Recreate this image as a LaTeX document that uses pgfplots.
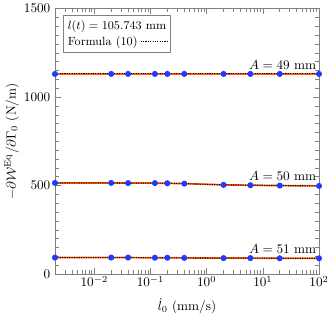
\documentclass[border=0pt]{standalone}
\usepackage{pgfplots}
\pgfplotsset{compat=1.18}
\definecolor{myorange}{RGB}{255,85,10}
\definecolor{myblue}{RGB}{30,60,255}
\begin{document}
\begin{tikzpicture}
\begin{axis}[
  scale only axis,
  width=200pt, height=201pt,
  xmode=log,
  xmin=0.002, xmax=100,
  ymin=0, ymax=1500,
  ytick={0,500,1000,1500},
  minor y tick num=9,
  yticklabel style={/pgf/number format/1000 sep={}},
  tick align=inside,
  axis line style={gray},
  every tick/.style={gray},
  xlabel={$\dot{l}_0$ (mm/s)},
  xlabel shift=2pt,
  xticklabel shift=-2pt,
  ylabel={$-\partial\mathcal{W}^{\mathrm{Eq}}/\partial\Gamma_0$ (N/m)},
  ylabel shift=-3pt,
  legend style={draw=gray, inner sep=1.5pt, font=\small, at={(0.03,0.975)}, anchor=north west},
  legend cell align=left,
  legend plot pos=right,
  legend image code/.code={\draw[#1] (0cm,0cm) -- (0.72cm,0cm);},
]
\addlegendimage{empty legend}
\addlegendentry{\rlap{$l(t) = 105.743$ mm}}
\addlegendimage{black, densely dotted, thick}
\addlegendentry{Formula (10)}
% A = 49
\addplot[myorange, line width=1.3pt, mark=*, mark size=1.6pt, mark options={myblue, fill=myblue}, forget plot] coordinates {
(0.002,1131) (0.02,1131) (0.04,1131) (0.12,1131) (0.2,1131) (0.4,1131) (2,1131) (6,1131) (20,1131) (100,1131)};
\addplot[black, densely dotted, thick, forget plot] coordinates {
(0.002,1131) (0.02,1131) (0.04,1131) (0.12,1131) (0.2,1131) (0.4,1131) (2,1131) (6,1131) (20,1131) (100,1131)};
% A = 50
\addplot[myorange, line width=1.3pt, mark=*, mark size=1.6pt, mark options={myblue, fill=myblue}, forget plot] coordinates {
(0.002,515) (0.02,515) (0.04,514) (0.12,514) (0.2,513) (0.4,511) (2,504) (6,502) (20,500) (100,498)};
\addplot[black, densely dotted, thick, forget plot] coordinates {
(0.002,515) (0.02,515) (0.04,514) (0.12,514) (0.2,513) (0.4,511) (2,504) (6,502) (20,500) (100,498)};
% A = 51
\addplot[myorange, line width=1.3pt, mark=*, mark size=1.6pt, mark options={myblue, fill=myblue}, forget plot] coordinates {
(0.002,93) (0.02,93) (0.04,93) (0.12,92) (0.2,92) (0.4,91) (2,90) (6,90) (20,89) (100,89)};
\addplot[black, densely dotted, thick, forget plot] coordinates {
(0.002,93) (0.02,93) (0.04,93) (0.12,92) (0.2,92) (0.4,91) (2,90) (6,90) (20,89) (100,89)};
\node[anchor=south east, inner sep=2pt] at (axis cs:100,1140) {$A = 49$ mm};
\node[anchor=south east, inner sep=2pt] at (axis cs:100,515) {$A = 50$ mm};
\node[anchor=south east, inner sep=2pt] at (axis cs:100,100) {$A = 51$ mm};
\end{axis}
\end{tikzpicture}
\end{document}
